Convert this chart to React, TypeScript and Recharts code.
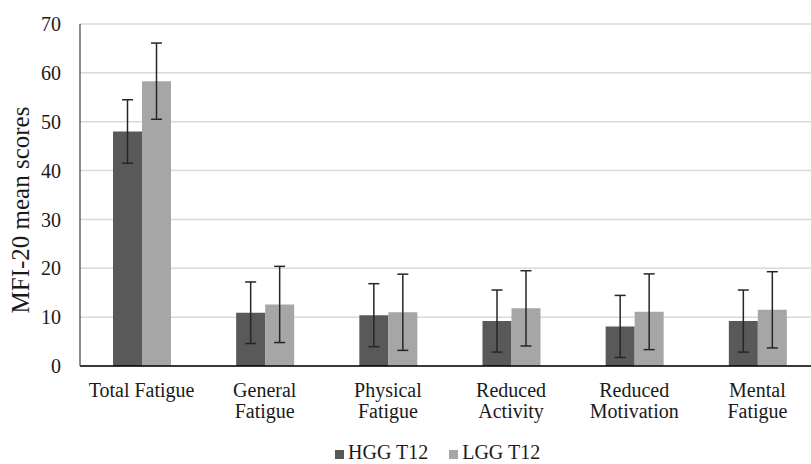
import React from "react";
import { BarChart, Bar, XAxis, YAxis, CartesianGrid, ErrorBar, Legend } from "recharts";

// MFI-20 subscale means with standard deviations at T12
const categories = [
  "Total Fatigue",
  "General Fatigue",
  "Physical Fatigue",
  "Reduced Activity",
  "Reduced Motivation",
  "Mental Fatigue",
];
const categoryLines = [
  ["Total Fatigue"],
  ["General", "Fatigue"],
  ["Physical", "Fatigue"],
  ["Reduced", "Activity"],
  ["Reduced", "Motivation"],
  ["Mental", "Fatigue"],
];
const hggMean = [48.0, 10.9, 10.4, 9.2, 8.1, 9.2];
const hggSd = [6.5, 6.3, 6.45, 6.35, 6.35, 6.35];
const lggMean = [58.3, 12.6, 11.0, 11.8, 11.1, 11.5];
const lggSd = [7.8, 7.8, 7.8, 7.7, 7.75, 7.8];
const yTicks = [0, 10, 20, 30, 40, 50, 60, 70];
const seriesNames = ["HGG T12", "LGG T12"];

const HGG_COLOR = "#595959";
const LGG_COLOR = "#a6a6a6";
const FONT = "'Liberation Serif', 'Times New Roman', serif";
const TEXT = "#1a1a1a";

const rows = categories.map((name, i) => ({
  name,
  lines: categoryLines[i],
  hgg: hggMean[i],
  hggErr: hggSd[i],
  lgg: lggMean[i],
  lggErr: lggSd[i],
}));

const CategoryTick = (props: any) => {
  const { x, y, index } = props;
  const lines = categoryLines[index] || [];
  return (
    <text x={x} y={y} textAnchor="middle" fontFamily={FONT} fontSize={20} fill={TEXT}>
      {lines.map((l, k) => (
        <tspan key={k} x={x} dy={k === 0 ? 31 : 21}>
          {l}
        </tspan>
      ))}
    </text>
  );
};

const AxisTitle = (props: any) => {
  const vb = props.viewBox || {};
  const cx = 20;
  const cy = vb.y + vb.height / 2 + 15;
  return (
    <text
      x={cx}
      y={cy}
      transform={`rotate(-90, ${cx}, ${cy})`}
      textAnchor="middle"
      dominantBaseline="central"
      fontFamily={FONT}
      fontSize={25}
      fill={TEXT}
    >
      MFI-20 mean scores
    </text>
  );
};

const LegendContent = () => {
  const colors = [HGG_COLOR, LGG_COLOR];
  return (
    <div
      style={{
        display: "flex",
        alignItems: "baseline",
        height: 23,
        lineHeight: "23px",
        fontFamily: FONT,
        fontSize: 20,
        color: TEXT,
        whiteSpace: "nowrap",
      }}
    >
      {seriesNames.map((n, i) => (
        <span key={n} style={{ display: "inline-flex", alignItems: "baseline", marginRight: i === 0 ? 21 : 0 }}>
          <span
            style={{
              display: "inline-block",
              width: 9,
              height: 9,
              background: colors[i],
              marginRight: 4,
            }}
          />
          {n}
        </span>
      ))}
    </div>
  );
};

export default function App() {
  return (
    <div
      style={{
        position: "absolute",
        left: 0,
        top: 0,
        width: 811,
        height: 464,
        overflow: "hidden",
        background: "#fff",
      }}
    >
      <BarChart
        width={830}
        height={464}
        data={rows}
        margin={{ top: 24, right: 11, left: 0, bottom: 0 }}
        barGap={0}
        barSize={29}
      >
        <CartesianGrid horizontal vertical={false} stroke="#d9d9d9" strokeWidth={1.5} />
        <XAxis
          dataKey="name"
          height={75}
          tickLine={false}
          tickSize={0}
          tickMargin={0}
          axisLine={{ stroke: "#000", strokeWidth: 1.5 }}
          tick={<CategoryTick />}
          interval={0}
        />
        <YAxis
          width={80}
          domain={[0, 70]}
          ticks={yTicks}
          interval={0}
          tickLine={false}
          tickSize={0}
          tickMargin={19}
          axisLine={{ stroke: "#404040", strokeWidth: 1.2 }}
          tick={{ fontFamily: FONT, fontSize: 20, fill: TEXT }}
          label={<AxisTitle />}
        />
        <Legend
          verticalAlign="bottom"
          content={<LegendContent />}
          wrapperStyle={{ left: 335, top: 441, bottom: "auto", width: "auto" }}
        />
        <Bar dataKey="hgg" name={seriesNames[0]} fill={HGG_COLOR} isAnimationActive={false}>
          <ErrorBar dataKey="hggErr" width={5.5} stroke="#262626" strokeWidth={1.5} />
        </Bar>
        <Bar dataKey="lgg" name={seriesNames[1]} fill={LGG_COLOR} isAnimationActive={false}>
          <ErrorBar dataKey="lggErr" width={5.5} stroke="#262626" strokeWidth={1.5} />
        </Bar>
      </BarChart>
    </div>
  );
}
